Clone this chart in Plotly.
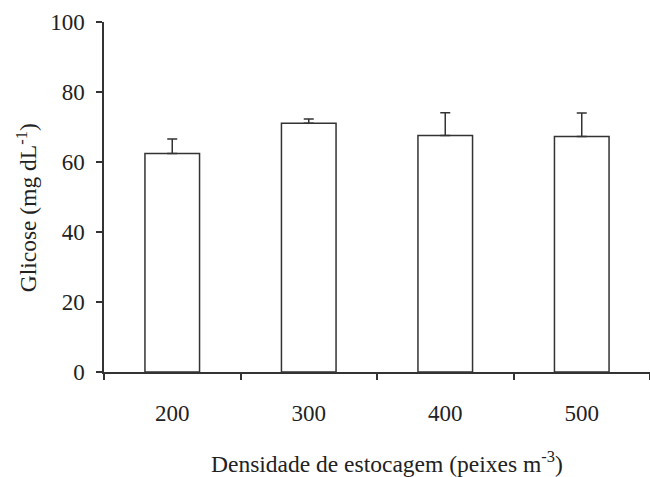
import plotly.graph_objects as go

categories = ["200", "300", "400", "500"]
glicose = [62.4, 71.1, 67.6, 67.3]
erro = [4.2, 1.2, 6.5, 6.7]
y_ticks = [0, 20, 40, 60, 80, 100]
x_title = "Densidade de estocagem (peixes m<sup>-3</sup>)"
y_title = "Glicose (mg dL<sup>-1</sup>)"

AX = "#333333"
FONT = "Liberation Serif, Times New Roman, serif"
TXT = "#222222"

fig = go.Figure()
fig.add_trace(go.Bar(
    x=categories, y=glicose, width=0.4,
    marker=dict(color="white", line=dict(color=AX, width=1.5)),
    error_y=dict(type="data", array=erro, arrayminus=[0]*len(erro),
                 symmetric=False, color=AX, thickness=1.5, width=5),
))

fig.update_layout(
    width=650, height=477,
    margin=dict(l=104, r=0, t=22, b=105),
    plot_bgcolor="white", paper_bgcolor="white",
    showlegend=False,
    font=dict(family=FONT, size=23, color=TXT),
    xaxis=dict(
        type="category", range=[-0.5, 3.5], automargin=False,
        showline=True, linecolor=AX, linewidth=1.5,
        ticks="outside", ticklen=6, tickcolor=AX, tickwidth=1.5,
        tickson="boundaries", showgrid=False,
        tickfont=dict(family=FONT, size=23, color=TXT),
        ticklabelstandoff=20,
    ),
    yaxis=dict(
        range=[0, 100], tickvals=y_ticks, automargin=False,
        showline=True, linecolor=AX, linewidth=1.5,
        ticks="outside", ticklen=6, tickcolor=AX, tickwidth=1.5,
        showgrid=False, zeroline=False,
        tickfont=dict(family=FONT, size=23, color=TXT),
        ticklabelstandoff=7,
    ),
    annotations=[
        dict(text=x_title, xref="paper", yref="paper", x=0.518, y=-0.256,
             xanchor="center", yanchor="middle", showarrow=False,
             font=dict(family=FONT, size=23.5, color=TXT)),
        dict(text=y_title, xref="paper", yref="paper", x=-0.142, y=0.469,
             xanchor="center", yanchor="middle", showarrow=False, textangle=-90,
             font=dict(family=FONT, size=23.5, color=TXT)),
    ],
)

fig.write_html("out.html", config={"displayModeBar": False},
               post_script="document.body.style.margin='0';document.body.style.padding='0';")
